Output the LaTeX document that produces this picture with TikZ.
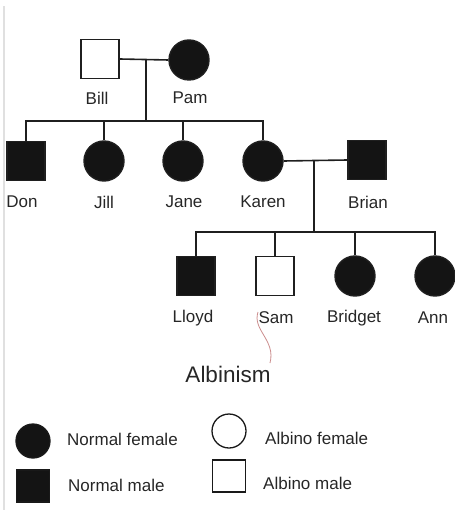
\documentclass[tikz,border=0pt]{standalone}
\usepackage{fontspec}
\setmainfont{Liberation Sans}
\begin{document}
\begin{tikzpicture}[x=1pt,y=-1pt,
  line/.style={draw=black!88, line width=1.6pt},
  male/.style={rectangle, draw=black!88, line width=1.4pt, minimum width=38pt, minimum height=39pt, inner sep=0pt},
  female/.style={circle, draw=black!88, line width=1.4pt, minimum size=40pt, inner sep=0pt},
  aff/.style={fill=black!92},
  nm/.style={font=\fontsize{17}{19}\selectfont, text=black!85, inner sep=0pt},
  lmale/.style={rectangle, draw=black!90, line width=1.3pt, minimum width=33pt, minimum height=32pt, inner sep=0pt},
  lfemale/.style={circle, draw=black!90, line width=1.3pt, minimum size=34pt, inner sep=0pt}]
\useasboundingbox (0,0) rectangle (454,518);
% faint page border
\draw[black!12, line width=1.2pt] (4,6) -- (4,510);

% generation I
\node[male] (bill) at (100,59) {};
\node[female,aff] (pam) at (189,60) {};
\node[nm] (lbill) at (97,98) {Bill};
\node[nm] (lpam) at (190,98) {Pam};
\coordinate (m1) at (146,59);
\coordinate (s1) at (146,121);
\draw[line] (bill.east) -- (pam.west);
\draw[line] (m1) -- (s1);

% generation II
\node[male,aff] (don) at (26,161) {};
\node[female,aff] (jill) at (104,161) {};
\node[female,aff] (jane) at (183,161) {};
\node[female,aff] (karen) at (263,161) {};
\node[male,aff] (brian) at (367,160) {};
\node[nm] (ldon) at (22,202) {Don};
\node[nm] (ljill) at (104,202) {Jill};
\node[nm] (ljane) at (184,202) {Jane};
\node[nm] (lkaren) at (263,202) {Karen};
\node[nm] (lbrian) at (368,202) {Brian};
\draw[line] (don.north) |- (s1) -| (karen.north);
\draw[line] (jill.north) -- (jill.north |- s1);
\draw[line] (jane.north) -- (jane.north |- s1);
\coordinate (m2) at (314,161);
\coordinate (s2) at (314,232);
\draw[line] (karen.east) -- (brian.west);
\draw[line] (m2) -- (s2);

% generation III
\node[male,aff] (lloyd) at (196,276) {};
\node[male] (sam) at (275,276) {};
\node[female,aff] (bridget) at (355,276) {};
\node[female,aff] (ann) at (435,276) {};
\node[nm] (llloyd) at (193,318) {Lloyd};
\node[nm] (lsam) at (276,318) {Sam};
\node[nm] (lbridget) at (354,318) {Bridget};
\node[nm] (lann) at (433,318) {Ann};
\draw[line] (lloyd.north) |- (s2) -| (ann.north);
\draw[line] (sam.north) -- (sam.north |- s2);
\draw[line] (bridget.north) -- (bridget.north |- s2);

% Albinism annotation
\node[font=\fontsize{22.5}{25}\selectfont, text=black!85, inner sep=0pt] (albinism) at (228,374) {Albinism};
\coordinate (p1) at (258,312);
\coordinate (p2) at (270,363);
\draw[red!55!black!45, line width=0.8pt] (p1) .. controls (252,330) and (276,340) .. (p2);

% legend
\node[lfemale,aff] (kf) at (33,441) {};
\node[nm, anchor=west] (tkf) at (67,439) {Normal female};
\node[lfemale] (ka) at (229,431) {};
\node[nm, anchor=west] (tka) at (265,438) {Albino female};
\node[lmale,aff] (km) at (33,486) {};
\node[nm, anchor=west] (tkm) at (68,485) {Normal male};
\node[lmale] (kam) at (229,476) {};
\node[nm, anchor=west] (tkam) at (263,483) {Albino male};
\end{tikzpicture}
\end{document}
